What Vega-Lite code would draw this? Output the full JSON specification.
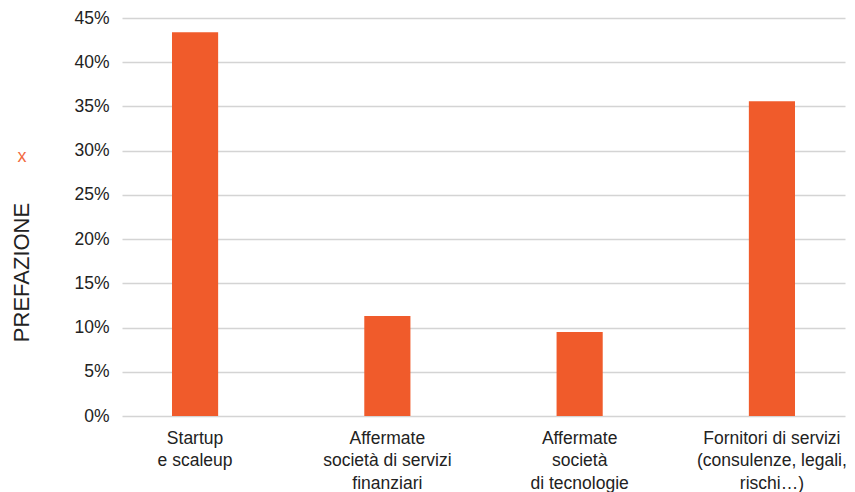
{
  "$schema": "https://vega.github.io/schema/vega-lite/v6.json",
  "width": 723,
  "height": 398,
  "autosize": "none",
  "padding": {"left": 122, "top": 18, "right": 10, "bottom": 76},
  "background": "white",
  "title": {
    "text": "x",
    "orient": "top",
    "anchor": "start",
    "frame": "group",
    "align": "center",
    "baseline": "middle",
    "offset": 0,
    "dx": -100,
    "dy": 166,
    "font": "Liberation Sans",
    "fontSize": 18,
    "fontWeight": "normal",
    "color": "#F26A3F"
  },
  "data": {
    "values": [
      {"categoria": "Startup|e scaleup", "quota": 0.434},
      {"categoria": "Affermate|società di servizi|finanziari", "quota": 0.113},
      {"categoria": "Affermate|società|di tecnologie", "quota": 0.095},
      {"categoria": "Fornitori di servizi|(consulenze, legali,|rischi…)", "quota": 0.356}
    ]
  },
  "mark": {"type": "bar", "color": "#F05B2B"},
  "encoding": {
    "x": {
      "field": "categoria",
      "type": "nominal",
      "sort": null,
      "scale": {"paddingInner": 0.76, "paddingOuter": 0.26},
      "axis": {
        "title": null,
        "labelAngle": 0,
        "labelExpr": "split(datum.label, '|')",
        "labelFont": "Liberation Sans",
        "labelFontSize": 17.5,
        "labelColor": "#222222",
        "labelLineHeight": 22.5,
        "labelPadding": 13,
        "labelBaseline": "top",
        "ticks": false,
        "domain": false,
        "grid": false
      }
    },
    "y": {
      "field": "quota",
      "type": "quantitative",
      "scale": {"domain": [0, 0.45], "nice": false},
      "axis": {
        "format": ".0%",
        "values": [0, 0.05, 0.1, 0.15, 0.2, 0.25, 0.3, 0.35, 0.4, 0.45],
        "title": "PREFAZIONE",
        "titleFont": "Liberation Sans",
        "titleFontSize": 22,
        "titleFontWeight": "normal",
        "titleColor": "#222222",
        "titleAngle": 270,
        "titleAlign": "center",
        "titleBaseline": "middle",
        "titleX": -101,
        "titleY": 254,
        "labelFont": "Liberation Sans",
        "labelFontSize": 17.5,
        "labelColor": "#222222",
        "labelPadding": 13,
        "ticks": false,
        "domain": false,
        "grid": true,
        "gridColor": "#D4D4D4",
        "gridWidth": 1.5
      }
    }
  },
  "config": {"view": {"stroke": null}}
}
